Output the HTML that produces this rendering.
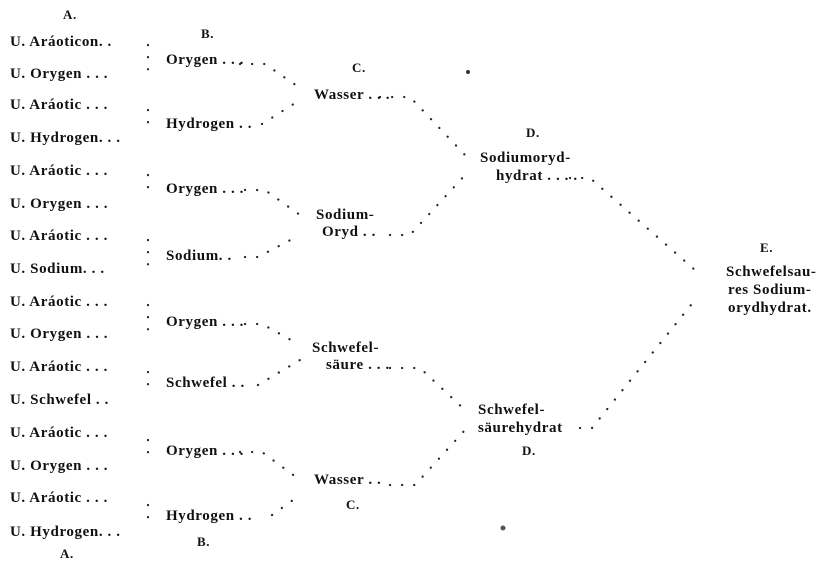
<!DOCTYPE html>
<html><head><meta charset="utf-8"><style>
body{margin:0;background:#fff;}
#c{position:relative;width:835px;height:579px;overflow:hidden;background:#fff;font-family:"Liberation Serif",serif;font-weight:bold;color:#111;font-size:15px;letter-spacing:0.6px;}
.t{position:absolute;white-space:nowrap;line-height:16px;}
svg{position:absolute;left:0;top:0;}
</style></head><body><div id="c">
<svg width="835" height="579">
<g stroke="#222" stroke-width="2.2" stroke-linecap="round" stroke-dasharray="0.1 12" fill="none">
<path d="M148 45 V70"/><path d="M148 110 V130"/><path d="M148 175 V195"/><path d="M148 240 V265"/>
<path d="M148 305 V330"/><path d="M148 372 V392"/><path d="M148 440 V460"/><path d="M148 505 V525"/>
<path d="M240 64 H265 L300 88"/><path d="M262 124 L300 100"/>
<path d="M245 190 H265 L300 215"/><path d="M245 257 H258 L300 235"/>
<path d="M245 324 H262 L300 345"/><path d="M258 385 L300 360"/>
<path d="M240 452 H262 L300 480"/><path d="M272 515 L300 495"/>
<path d="M380 97 H410 L465 155"/><path d="M390 235 H410 L465 175"/>
<path d="M390 368 H420 L465 410"/><path d="M390 485 H415 L465 430"/>
<path d="M570 178 H590 L695 270"/><path d="M580 428 H592 L695 300"/>
</g>
<circle cx="468" cy="72" r="2" fill="#333"/><circle cx="503" cy="528" r="2.5" fill="#555"/>
</svg>
<div class="t" style="left:63px;top:7px;font-size:13px">A.</div>
<div class="t" style="left:10px;top:34px">U. Aráoticon. .</div>
<div class="t" style="left:10px;top:66px">U. Orygen . . .</div>
<div class="t" style="left:10px;top:97px">U. Aráotic . . .</div>
<div class="t" style="left:10px;top:130px">U. Hydrogen. . .</div>
<div class="t" style="left:10px;top:163px">U. Aráotic . . .</div>
<div class="t" style="left:10px;top:196px">U. Orygen . . .</div>
<div class="t" style="left:10px;top:228px">U. Aráotic . . .</div>
<div class="t" style="left:10px;top:261px">U. Sodium. . .</div>
<div class="t" style="left:10px;top:294px">U. Aráotic . . .</div>
<div class="t" style="left:10px;top:326px">U. Orygen . . .</div>
<div class="t" style="left:10px;top:359px">U. Aráotic . . .</div>
<div class="t" style="left:10px;top:392px">U. Schwefel . .</div>
<div class="t" style="left:10px;top:425px">U. Aráotic . . .</div>
<div class="t" style="left:10px;top:458px">U. Orygen . . .</div>
<div class="t" style="left:10px;top:490px">U. Aráotic . . .</div>
<div class="t" style="left:10px;top:524px">U. Hydrogen. . .</div>
<div class="t" style="left:60px;top:546px;font-size:13px">A.</div>
<div class="t" style="left:201px;top:26px;font-size:13px">B.</div>
<div class="t" style="left:166px;top:52px">Orygen . . .</div>
<div class="t" style="left:166px;top:116px">Hydrogen . .</div>
<div class="t" style="left:166px;top:181px">Orygen . . .</div>
<div class="t" style="left:166px;top:248px">Sodium. .</div>
<div class="t" style="left:166px;top:314px">Orygen . . .</div>
<div class="t" style="left:166px;top:375px">Schwefel . .</div>
<div class="t" style="left:166px;top:443px">Orygen . . .</div>
<div class="t" style="left:166px;top:508px">Hydrogen . .</div>
<div class="t" style="left:197px;top:534px;font-size:13px">B.</div>
<div class="t" style="left:352px;top:60px;font-size:13px">C.</div>
<div class="t" style="left:314px;top:87px">Wasser . . .</div>
<div class="t" style="left:316px;top:207px">Sodium-</div>
<div class="t" style="left:322px;top:224px">Oryd . .</div>
<div class="t" style="left:312px;top:340px">Schwefel-</div>
<div class="t" style="left:326px;top:357px">säure . . .</div>
<div class="t" style="left:314px;top:472px">Wasser . .</div>
<div class="t" style="left:346px;top:497px;font-size:13px">C.</div>
<div class="t" style="left:526px;top:125px;font-size:13px">D.</div>
<div class="t" style="left:480px;top:150px">Sodiumoryd-</div>
<div class="t" style="left:496px;top:168px">hydrat . . . .</div>
<div class="t" style="left:478px;top:402px">Schwefel-</div>
<div class="t" style="left:478px;top:420px">säurehydrat</div>
<div class="t" style="left:522px;top:443px;font-size:13px">D.</div>
<div class="t" style="left:760px;top:240px;font-size:13px">E.</div>
<div class="t" style="left:726px;top:264px">Schwefelsau-</div>
<div class="t" style="left:728px;top:282px">res Sodium-</div>
<div class="t" style="left:728px;top:300px">orydhydrat.</div>
</div></body></html>
